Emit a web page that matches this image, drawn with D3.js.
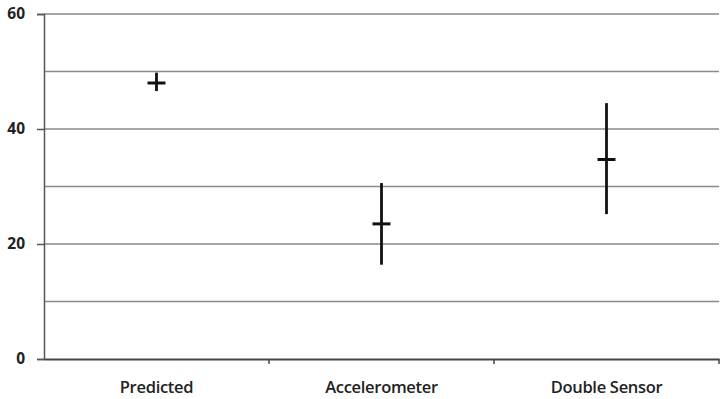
<!DOCTYPE html>
<html>
<head>
<meta charset="utf-8">
<script src="https://cdn.jsdelivr.net/npm/d3@7"></script>
<style>
  body { margin: 0; background: #fff; }
  svg { display: block; }
</style>
</head>
<body>
<div id="chart"></div>
<script>
// Data
const categories = ["Predicted", "Accelerometer", "Double Sensor"];
const means = [48, 23.5, 34.7];
const lows = [46.6, 16.4, 25.2];
const highs = [49.8, 30.6, 44.5];
const yTicks = [0, 20, 40, 60];
const gridValues = [10, 20, 30, 40, 50, 60];

const width = 720, height = 399;
const margin = { top: 14, right: 1, bottom: 40, left: 44 };

const svg = d3.select("#chart").append("svg")
    .attr("width", width)
    .attr("height", height);

const x = d3.scaleBand()
    .domain(categories)
    .range([margin.left, width - margin.right]);

const y = d3.scaleLinear()
    .domain([0, 60])
    .range([height - margin.bottom, margin.top]);

// horizontal gridlines
svg.append("g")
    .selectAll("line")
    .data(gridValues)
    .join("line")
    .attr("x1", margin.left)
    .attr("x2", width - margin.right)
    .attr("y1", d => y(d))
    .attr("y2", d => y(d))
    .style("stroke", "#8a8a8a")
    .style("stroke-width", 1.5);

// y axis
const yAxis = svg.append("g")
    .attr("transform", `translate(${margin.left},0)`)
    .call(d3.axisLeft(y).tickValues(yTicks).tickSize(7).tickPadding(12).tickFormat(d3.format("d")));
yAxis.select(".domain").style("stroke", "#555").style("stroke-width", 1.5);
yAxis.selectAll(".tick line").style("stroke", "#555").style("stroke-width", 1.5);
yAxis.selectAll("text")
    .style("font-family", "'Open Sans', sans-serif")
    .style("font-size", "15.5px")
    .style("font-weight", "bold")
    .style("fill", "#222");

// x axis
const xAxis = svg.append("g")
    .attr("transform", `translate(0,${y(0)})`)
    .call(d3.axisBottom(x).tickSize(0).tickPadding(22));
xAxis.select(".domain").style("stroke", "#444").style("stroke-width", 2);
xAxis.selectAll("text")
    .style("font-family", "'Open Sans', sans-serif")
    .style("font-size", "16.5px")
    .style("font-weight", 600)
    .style("letter-spacing", "-0.3px")
    .style("fill", "#222");

// category divider ticks
svg.append("g")
    .selectAll("line")
    .data(categories)
    .join("line")
    .attr("x1", d => x(d) + x.bandwidth())
    .attr("x2", d => x(d) + x.bandwidth())
    .attr("y1", y(0))
    .attr("y2", y(0) + 5)
    .style("stroke", "#444")
    .style("stroke-width", 1.5);

// error bars
const marks = svg.append("g");
categories.forEach((c, i) => {
    const cx = x(c) + x.bandwidth() / 2;
    marks.append("line")
        .attr("x1", cx).attr("x2", cx)
        .attr("y1", y(highs[i])).attr("y2", y(lows[i]))
        .style("stroke", "#111")
        .style("stroke-width", 2.8);
    marks.append("line")
        .attr("x1", cx - 9).attr("x2", cx + 9)
        .attr("y1", y(means[i])).attr("y2", y(means[i]))
        .style("stroke", "#111")
        .style("stroke-width", 3);
});
</script>
</body>
</html>
